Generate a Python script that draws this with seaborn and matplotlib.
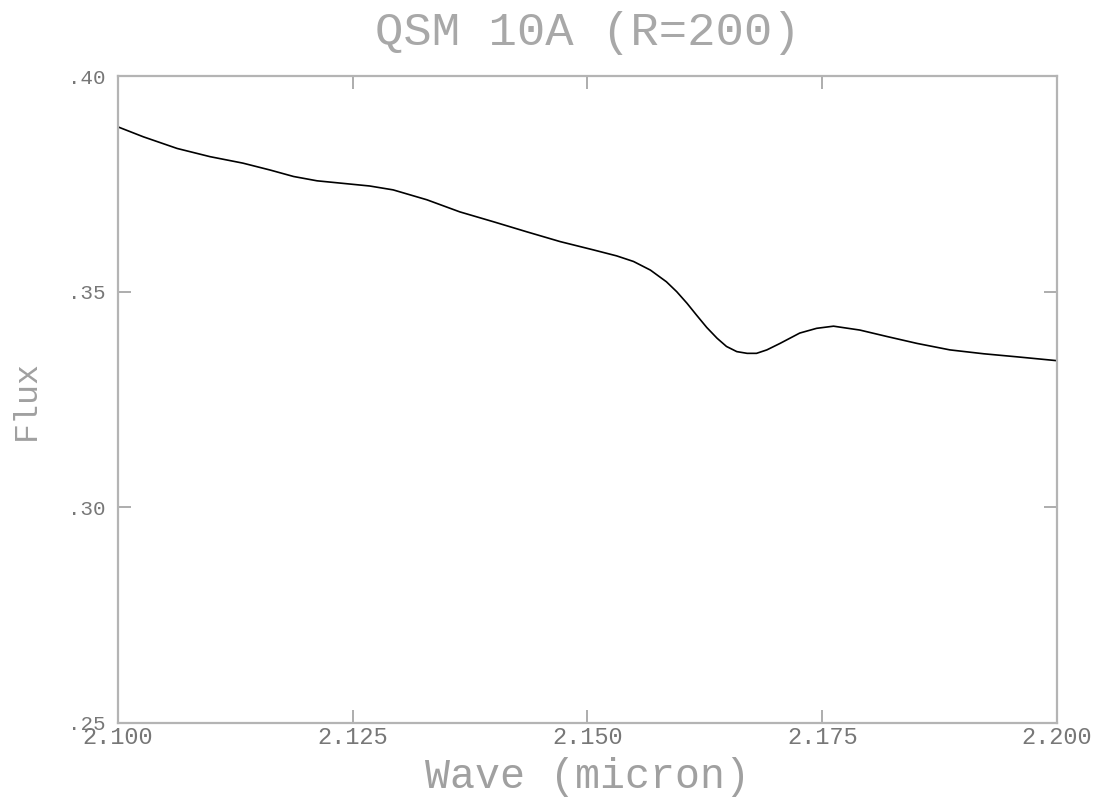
import matplotlib
matplotlib.use("Agg")
import matplotlib.pyplot as plt
import seaborn as sns
import pandas as pd

# Spectrum samples: wavelength (micron) and flux
wave = [2.1000, 2.1027, 2.1063, 2.1098, 2.1133, 2.1162, 2.1187, 2.1212, 2.1240,
        2.1268, 2.1293, 2.1329, 2.1364, 2.1400, 2.1435, 2.1471, 2.1506, 2.1531,
        2.1549, 2.1567, 2.1584, 2.1595, 2.1606, 2.1616, 2.1627, 2.1638, 2.1648,
        2.1659, 2.1670, 2.1680, 2.1691, 2.1705, 2.1719, 2.1726, 2.1744, 2.1762,
        2.1790, 2.1819, 2.1851, 2.1886, 2.1922, 2.1957, 2.2000]
flux = [0.3882, 0.3859, 0.3832, 0.3813, 0.3798, 0.3782, 0.3767, 0.3757, 0.3751,
        0.3745, 0.3736, 0.3713, 0.3685, 0.3662, 0.3639, 0.3616, 0.3597, 0.3583,
        0.3570, 0.3550, 0.3523, 0.3500, 0.3473, 0.3446, 0.3417, 0.3392, 0.3373,
        0.3361, 0.3357, 0.3357, 0.3365, 0.3380, 0.3396, 0.3404, 0.3415, 0.3420,
        0.3411, 0.3396, 0.3380, 0.3365, 0.3356, 0.3349, 0.3340]

xticks = [2.100, 2.125, 2.150, 2.175, 2.200]
xtick_labels = ["2.100", "2.125", "2.150", "2.175", "2.200"]
yticks = [0.25, 0.30, 0.35, 0.40]
ytick_labels = [".25", ".30", ".35", ".40"]

title = "QSM 10A (R=200)"
xlabel = "Wave (micron)"
ylabel = "Flux"

sns.set_theme(style="white")
plt.rcParams["font.family"] = ["Liberation Mono", "DejaVu Sans Mono"]

df = pd.DataFrame({"wave": wave, "flux": flux})

fig = plt.figure(figsize=(11.05, 7.97), dpi=100)
ax = fig.add_axes([118 / 1105, 1 - 723 / 797, (1057 - 118) / 1105, (723 - 76) / 797])

sns.lineplot(data=df, x="wave", y="flux", ax=ax, color="black", linewidth=1.2)

ax.set_xlim(2.100, 2.200)
ax.set_ylim(0.25, 0.40)

frame_col = "#b4b4b4"
for s in ax.spines.values():
    s.set_color(frame_col)
    s.set_linewidth(1.6)
    s.set_visible(True)

ax.set_xticks(xticks)
ax.set_xticklabels(xtick_labels)
ax.set_yticks(yticks)
ax.set_yticklabels(ytick_labels)

ax.tick_params(axis="both", which="major", direction="in", length=9.5, width=1.2,
               color="#a0a0a0", top=True, right=True, bottom=True, left=True)
ax.tick_params(axis="x", labelsize=17, labelcolor="#777777", pad=2)
ax.tick_params(axis="y", labelsize=15, labelcolor="#777777", pad=9)

ax.set_xlabel(xlabel, fontsize=30, color="#a0a0a0", labelpad=6)
ax.set_ylabel(ylabel, fontsize=24, color="#a0a0a0")
ax.yaxis.set_label_coords(-0.081, 0.5)
ax.set_title(title, fontsize=34, color="#a8a8a8", pad=22)

fig.savefig("out.png", dpi=100, facecolor="white")
